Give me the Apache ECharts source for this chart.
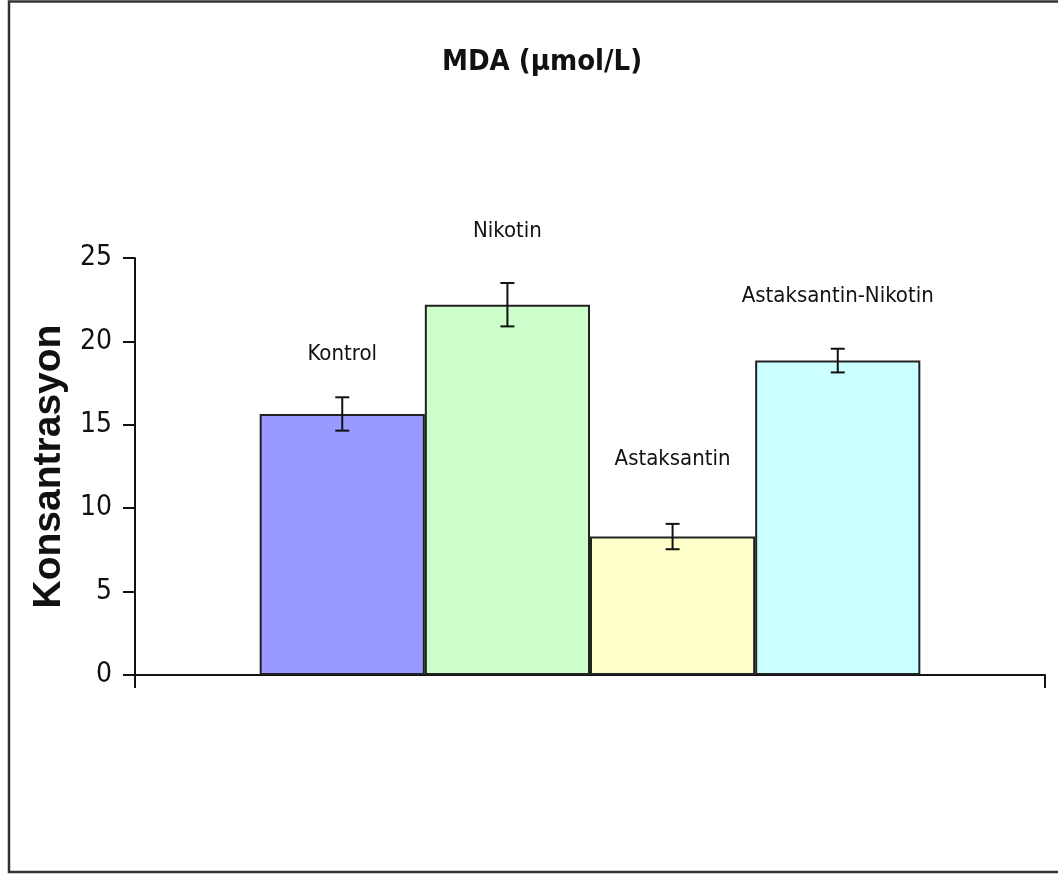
<!DOCTYPE html>
<html>
<head>
<meta charset="utf-8">
<script src="https://cdn.jsdelivr.net/npm/echarts@6/dist/echarts.min.js"></script>
<style>
html,body{margin:0;padding:0;background:#fff;}
#chart{width:1058px;height:874px;}
</style>
</head>
<body>
<div id="chart"></div>
<script>
const groups = ['Kontrol', 'Nikotin', 'Astaksantin', 'Astaksantin-Nikotin'];
const means = [15.65, 22.2, 8.3, 18.85];
const errors = [1.0, 1.3, 0.76, 0.71];
const yTicks = [0, 5, 10, 15, 20, 25];
const titleText = 'MDA (µmol/L)';
const yName = 'Konsantrasyon';

const colors = ['#9999FF', '#CCFFCC', '#FFFFCC', '#CCFFFF'];
const labelDist = [49, 62, 66, 53];
const catGap = 0.274;
const narrow = "'Liberation Sans Narrow', 'DejaVu Sans Condensed', 'Arial Narrow', sans-serif";

const chart = echarts.init(document.getElementById('chart'));

const barSeries = groups.map((g, i) => ({
  name: g,
  type: 'bar',
  data: [means[i]],
  barGap: '0%',
  barCategoryGap: (catGap * 100) + '%',
  itemStyle: { color: colors[i], borderColor: '#222', borderWidth: 2 },
  label: {
    show: true, position: 'top', distance: labelDist[i],
    formatter: g, fontFamily: narrow, fontSize: 22, color: '#111'
  },
  z: 2
}));

const errData = groups.map((g, i) => [0, i, means[i], errors[i]]);

const errSeries = {
  type: 'custom',
  data: errData,
  encode: { x: 0, y: 2 },
  z: 5,
  renderItem: function (params, api) {
    const idx = api.value(1);
    const m = api.value(2);
    const e = api.value(3);
    const band = api.size([1, 0])[0];
    const groupW = band * (1 - catGap);
    const bw = groupW / groups.length;
    const c = api.coord([0, m]);
    const x = c[0] - groupW / 2 + bw * (idx + 0.5);
    const yHi = api.coord([0, m + e])[1];
    const yLo = api.coord([0, m - e])[1];
    const hw = 7;
    const st = { stroke: '#111', lineWidth: 2 };
    return {
      type: 'group',
      children: [
        { type: 'line', shape: { x1: x, y1: yHi, x2: x, y2: yLo }, style: st },
        { type: 'line', shape: { x1: x - hw, y1: yHi, x2: x + hw, y2: yHi }, style: st },
        { type: 'line', shape: { x1: x - hw, y1: yLo, x2: x + hw, y2: yLo }, style: st }
      ]
    };
  }
};

chart.setOption({
  animation: false,
  backgroundColor: '#fff',
  title: {
    text: titleText,
    left: 537, top: 43, textAlign: 'center',
    textStyle: { fontFamily: narrow, fontWeight: 'bold', fontSize: 29, color: '#111' }
  },
  grid: { left: 135, right: 13, top: 258, bottom: 199, containLabel: false },
  xAxis: {
    type: 'category',
    data: [''],
    axisLine: { lineStyle: { color: '#111', width: 2 } },
    axisTick: { show: true, length: 13, lineStyle: { color: '#111', width: 2 } },
    axisLabel: { show: false },
    splitLine: { show: false }
  },
  yAxis: {
    type: 'value',
    min: yTicks[0], max: yTicks[yTicks.length - 1], interval: yTicks[1] - yTicks[0],
    name: yName,
    nameLocation: 'middle',
    nameGap: 66,
    nameRotate: 90,
    nameTextStyle: { fontFamily: "'Liberation Sans', Arial, sans-serif", fontWeight: 'bold', fontSize: 39, color: '#111' },
    axisLine: { show: true, lineStyle: { color: '#111', width: 2 } },
    axisTick: { show: true, length: 12, lineStyle: { color: '#111', width: 2 } },
    axisLabel: { fontFamily: narrow, fontSize: 28, color: '#111', margin: 23 },
    splitLine: { show: false }
  },
  graphic: [{
    type: 'polyline',
    shape: { points: [[1060, 1.5], [9, 1.5], [9, 872], [1060, 872]] },
    style: { stroke: '#333', lineWidth: 2.5, fill: null },
    z: 10
  }],
  series: barSeries.concat([errSeries])
});
</script>
</body>
</html>
